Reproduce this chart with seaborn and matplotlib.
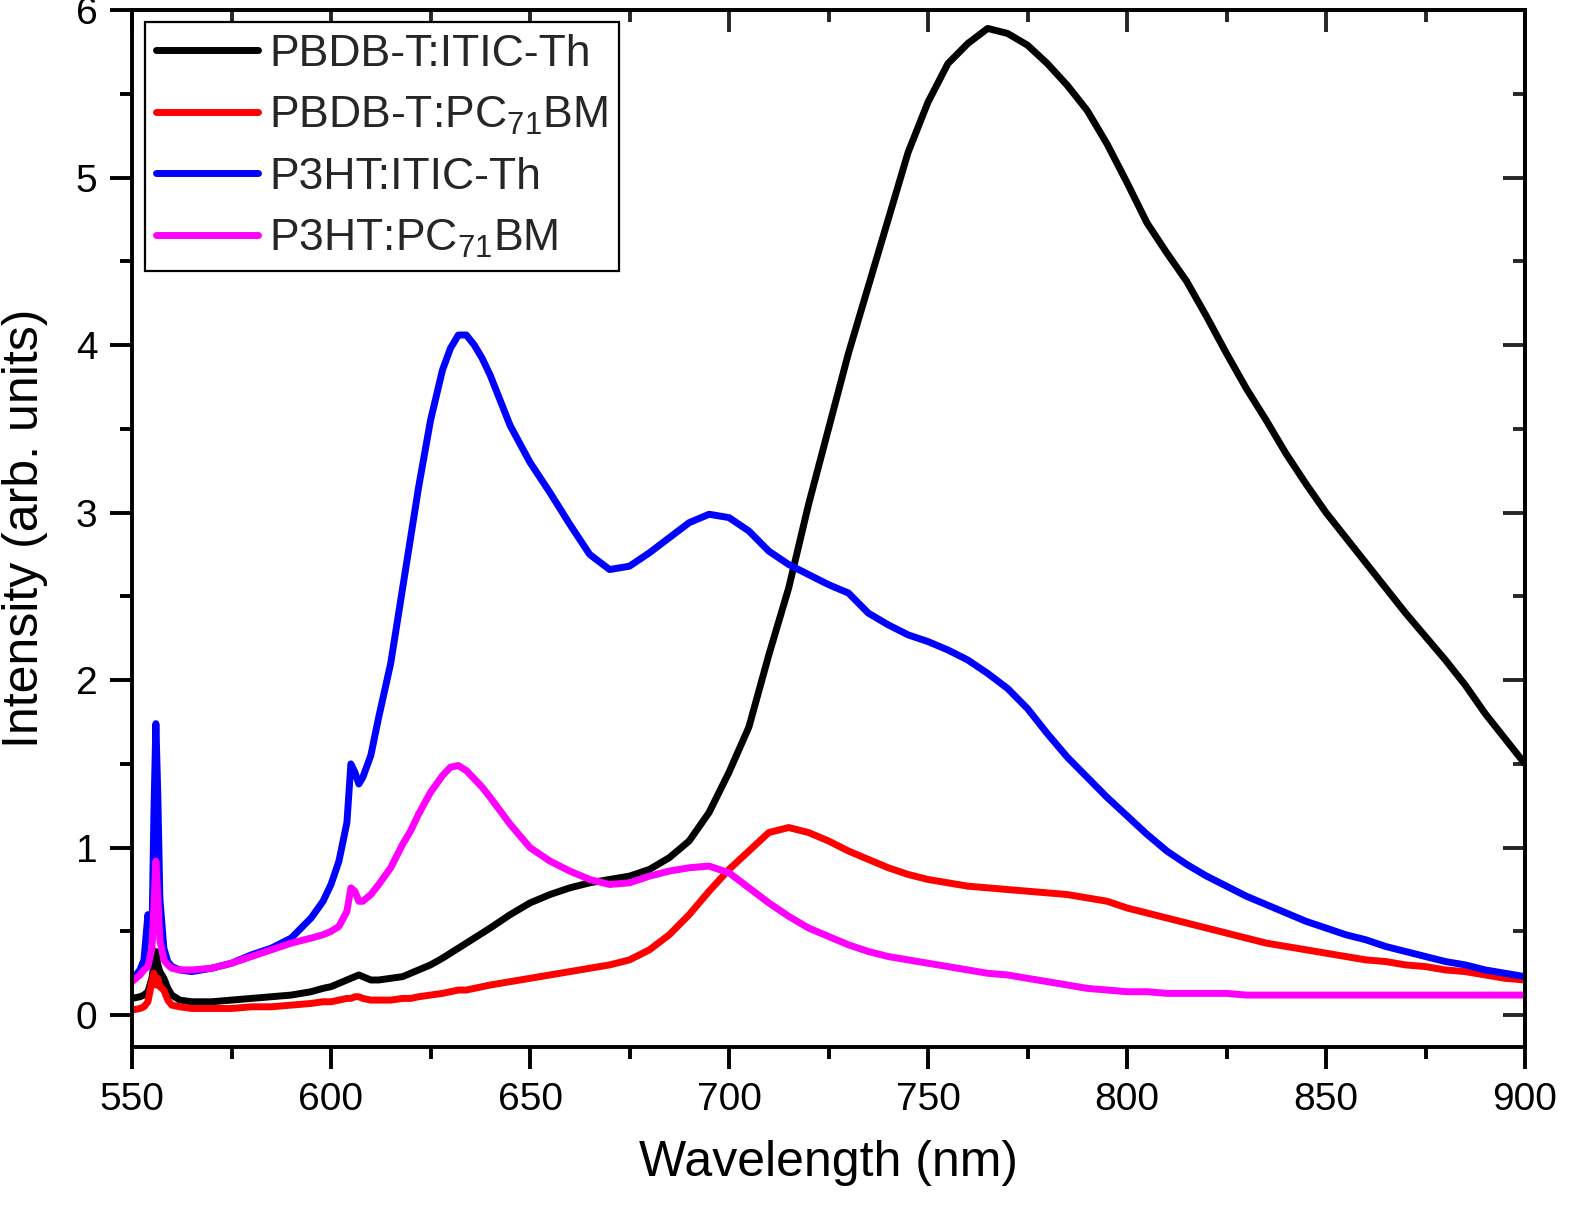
import numpy as np
import pandas as pd
import matplotlib
matplotlib.use("Agg")
import matplotlib.pyplot as plt
from matplotlib.lines import Line2D
from matplotlib.ticker import MultipleLocator
import seaborn as sns

# ---------------- data ----------------
wavelength = [550, 552, 553, 554, 555, 555.5, 556, 556.5, 557, 558, 559, 560, 562, 565,
              570, 575, 580, 585, 590, 595, 598, 600, 602, 604, 605, 606, 607, 608,
              610, 612, 615, 618, 620, 622, 625, 628, 630, 632, 634, 636, 638, 640,
              645, 650, 655, 660, 665, 670, 675, 680, 685, 690, 695, 700, 705, 710,
              715, 720, 725, 730, 735, 740, 745, 750, 755, 760, 765, 770, 775, 780,
              785, 790, 795, 800, 805, 810, 815, 820, 825, 830, 835, 840, 845, 850,
              855, 860, 865, 870, 875, 880, 885, 890, 895, 900]

pbdbt_itic = [0.10, 0.11, 0.12, 0.14, 0.22, 0.30, 0.38, 0.30, 0.26, 0.22, 0.16, 0.12, 0.09, 0.08,
              0.08, 0.09, 0.10, 0.11, 0.12, 0.14, 0.16, 0.17, 0.19, 0.21, 0.22, 0.23, 0.24, 0.23,
              0.21, 0.21, 0.22, 0.23, 0.25, 0.27, 0.30, 0.34, 0.37, 0.40, 0.43, 0.46, 0.49, 0.52,
              0.60, 0.67, 0.72, 0.76, 0.79, 0.81, 0.83, 0.87, 0.94, 1.04, 1.21, 1.45, 1.72, 2.15,
              2.55, 3.05, 3.50, 3.95, 4.35, 4.75, 5.15, 5.45, 5.68, 5.80, 5.89, 5.86, 5.79, 5.68,
              5.55, 5.40, 5.20, 4.97, 4.73, 4.55, 4.38, 4.17, 3.95, 3.74, 3.55, 3.35, 3.17, 3.00,
              2.85, 2.70, 2.55, 2.40, 2.26, 2.12, 1.97, 1.80, 1.65, 1.50]

pbdbt_pcbm = [0.03, 0.04, 0.05, 0.08, 0.20, 0.25, 0.18, 0.22, 0.17, 0.15, 0.09, 0.06, 0.05, 0.04,
              0.04, 0.04, 0.05, 0.05, 0.06, 0.07, 0.08, 0.08, 0.09, 0.10, 0.10, 0.11, 0.11, 0.10,
              0.09, 0.09, 0.09, 0.10, 0.10, 0.11, 0.12, 0.13, 0.14, 0.15, 0.15, 0.16, 0.17, 0.18,
              0.20, 0.22, 0.24, 0.26, 0.28, 0.30, 0.33, 0.39, 0.48, 0.60, 0.74, 0.87, 0.98, 1.09,
              1.12, 1.09, 1.04, 0.98, 0.93, 0.88, 0.84, 0.81, 0.79, 0.77, 0.76, 0.75, 0.74, 0.73,
              0.72, 0.70, 0.68, 0.64, 0.61, 0.58, 0.55, 0.52, 0.49, 0.46, 0.43, 0.41, 0.39, 0.37,
              0.35, 0.33, 0.32, 0.30, 0.29, 0.27, 0.26, 0.24, 0.22, 0.21]

p3ht_itic = [0.21, 0.27, 0.33, 0.60, 0.45, 1.20, 1.74, 1.30, 0.70, 0.40, 0.32, 0.29, 0.27, 0.26,
             0.28, 0.31, 0.36, 0.40, 0.46, 0.58, 0.68, 0.78, 0.92, 1.15, 1.50, 1.45, 1.38, 1.42,
             1.55, 1.78, 2.10, 2.55, 2.85, 3.15, 3.55, 3.85, 3.98, 4.06, 4.06, 4.00, 3.92, 3.82,
             3.52, 3.30, 3.12, 2.93, 2.75, 2.66, 2.68, 2.76, 2.85, 2.94, 2.99, 2.97, 2.89, 2.77,
             2.69, 2.63, 2.57, 2.52, 2.40, 2.33, 2.27, 2.23, 2.18, 2.12, 2.04, 1.95, 1.83, 1.68,
             1.54, 1.42, 1.30, 1.19, 1.08, 0.98, 0.90, 0.83, 0.77, 0.71, 0.66, 0.61, 0.56, 0.52,
             0.48, 0.45, 0.41, 0.38, 0.35, 0.32, 0.30, 0.27, 0.25, 0.23]

p3ht_pcbm = [0.20, 0.24, 0.27, 0.29, 0.40, 0.65, 0.92, 0.70, 0.45, 0.33, 0.30, 0.28, 0.27, 0.27,
             0.28, 0.31, 0.35, 0.39, 0.43, 0.46, 0.48, 0.50, 0.53, 0.62, 0.76, 0.74, 0.68, 0.68,
             0.72, 0.78, 0.88, 1.02, 1.10, 1.20, 1.33, 1.43, 1.48, 1.49, 1.46, 1.41, 1.36, 1.30,
             1.14, 1.00, 0.92, 0.86, 0.81, 0.78, 0.79, 0.83, 0.86, 0.88, 0.89, 0.85, 0.76, 0.67,
             0.59, 0.52, 0.47, 0.42, 0.38, 0.35, 0.33, 0.31, 0.29, 0.27, 0.25, 0.24, 0.22, 0.20,
             0.18, 0.16, 0.15, 0.14, 0.14, 0.13, 0.13, 0.13, 0.13, 0.12, 0.12, 0.12, 0.12, 0.12,
             0.12, 0.12, 0.12, 0.12, 0.12, 0.12, 0.12, 0.12, 0.12, 0.12]

series_names = ["PBDB-T:ITIC-Th", "PBDB-T:PC$_{71}$BM", "P3HT:ITIC-Th", "P3HT:PC$_{71}$BM"]
series_values = [pbdbt_itic, pbdbt_pcbm, p3ht_itic, p3ht_pcbm]
series_colors = ["#000000", "#ff0000", "#0000ff", "#ff00ff"]

x_ticks = [550, 600, 650, 700, 750, 800, 850, 900]
y_ticks = [0, 1, 2, 3, 4, 5, 6]

# ---------------- style ----------------
sns.set_theme(style="ticks")
plt.rcParams["font.family"] = ["Liberation Sans", "DejaVu Sans"]
plt.rcParams["mathtext.fontset"] = "custom"
plt.rcParams["mathtext.rm"] = "Liberation Sans"
plt.rcParams["mathtext.it"] = "Liberation Sans"
plt.rcParams["mathtext.bf"] = "Liberation Sans:bold"

frames = []
for name, vals in zip(series_names, series_values):
    frames.append(pd.DataFrame({"Wavelength": wavelength, "Intensity": vals, "Sample": name}))
df = pd.concat(frames, ignore_index=True)

W, H = 1583, 1217
fig = plt.figure(figsize=(W / 100, H / 100), dpi=100)
ax = fig.add_axes([132 / W, 1 - 1047 / H, 1393 / W, 1037 / H])

line_w = 5.0
sns.lineplot(data=df, x="Wavelength", y="Intensity", hue="Sample",
             hue_order=series_names, palette=series_colors,
             estimator=None, sort=False, linewidth=line_w, legend=False, ax=ax)

ax.set_xlim(550, 900)
ax.set_ylim(-0.19, 6.0)
ax.set_xticks(x_ticks)
ax.set_yticks(y_ticks)
ax.xaxis.set_minor_locator(MultipleLocator(25))
ax.yaxis.set_minor_locator(MultipleLocator(0.5))

lw_frame = 2.8
for sp in ax.spines.values():
    sp.set_visible(True)
    sp.set_linewidth(lw_frame)
    sp.set_color("black")

ax.tick_params(axis="both", which="major", direction="out", length=16, width=lw_frame,
               labelsize=28, color="black", labelcolor="black", pad=9)
ax.tick_params(axis="both", which="minor", direction="out", length=8.5, width=lw_frame,
               color="black")
ax.tick_params(top=False, right=False, which="both")

# inward ticks on top and right
secx = ax.secondary_xaxis("top")
secx.xaxis.set_major_locator(MultipleLocator(50))
secx.xaxis.set_minor_locator(MultipleLocator(25))
secx.tick_params(axis="x", which="major", direction="in", length=16, width=lw_frame, labeltop=False)
secx.tick_params(axis="x", which="minor", direction="in", length=8.5, width=lw_frame)
secx.spines["top"].set_linewidth(lw_frame)

secy = ax.secondary_yaxis("right")
secy.yaxis.set_major_locator(MultipleLocator(1))
secy.yaxis.set_minor_locator(MultipleLocator(0.5))
secy.tick_params(axis="y", which="major", direction="in", length=16, width=lw_frame, labelright=False)
secy.tick_params(axis="y", which="minor", direction="in", length=8.5, width=lw_frame)
secy.spines["right"].set_linewidth(lw_frame)

ax.set_xlabel("Wavelength (nm)", fontsize=36, labelpad=16, color="black")
ax.set_ylabel("Intensity (arb. units)", fontsize=36, labelpad=20, color="black")

handles = [Line2D([0], [0], color=c, lw=line_w) for c in series_colors]
leg = ax.legend(handles, series_names, loc="upper left", bbox_to_anchor=(0.0093, 0.988),
                borderaxespad=0, fontsize=32, frameon=True, fancybox=False,
                handlelength=2.3, handletextpad=0.25, borderpad=0.25, labelspacing=0.45)
leg.get_frame().set_edgecolor("black")
leg.get_frame().set_linewidth(1.6)
leg.get_frame().set_facecolor("white")
leg.get_frame().set_alpha(1)

fig.savefig("out.png", dpi=100)
